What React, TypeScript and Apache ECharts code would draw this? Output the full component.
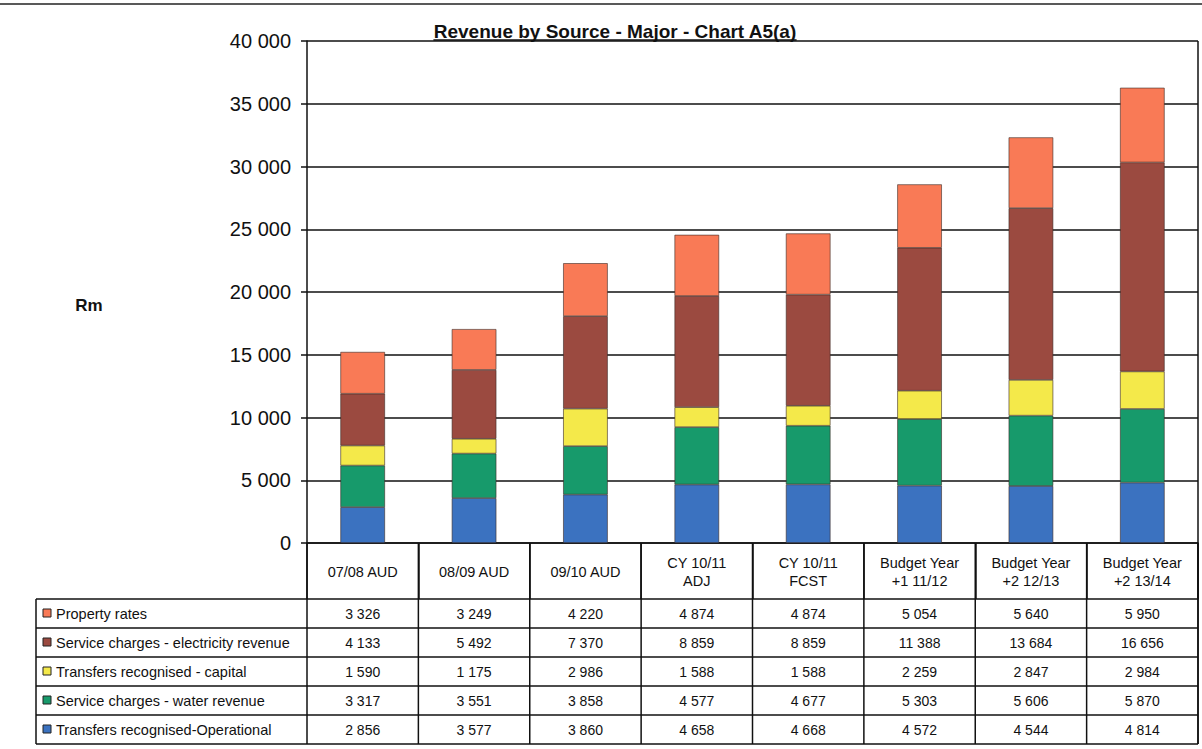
import React, { useEffect, useRef } from "react";
import * as echarts from "echarts";

const categories = [
  "07/08 AUD",
  "08/09 AUD",
  "09/10 AUD",
  "CY 10/11\nADJ",
  "CY 10/11\nFCST",
  "Budget Year\n+1 11/12",
  "Budget Year\n+2 12/13",
  "Budget Year\n+2 13/14",
];
const seriesNames = [
  "Property rates",
  "Service charges - electricity revenue",
  "Transfers recognised - capital",
  "Service charges - water revenue",
  "Transfers recognised-Operational",
];
const propertyRates = [3326, 3249, 4220, 4874, 4874, 5054, 5640, 5950];
const electricity = [4133, 5492, 7370, 8859, 8859, 11388, 13684, 16656];
const capital = [1590, 1175, 2986, 1588, 1588, 2259, 2847, 2984];
const water = [3317, 3551, 3858, 4577, 4677, 5303, 5606, 5870];
const operational = [2856, 3577, 3860, 4658, 4668, 4572, 4544, 4814];
const yTicks = [0, 5000, 10000, 15000, 20000, 25000, 30000, 35000, 40000];

const colors = ["#f97a56", "#9b4a40", "#f4e94a", "#179a6b", "#3b72c0"];
const tableRows = [propertyRates, electricity, capital, water, operational];

const FONT = "Liberation Sans, Arial, sans-serif";
const fmt = (v: number) => String(v).replace(/\B(?=(\d{3})+(?!\d))/g, " ");

// layout
const GL = 307;
const GT = 41;
const GW = 891;
const GH = 502;
const TABLE_TOP = 599;
const ROW_H = 29;
const TABLE_LEFT = 36;
const TITLE = "Revenue by Source - Major - Chart A5(a)";
const TITLE_FONT = `bold 19px ${FONT}`;

export default function App() {
  const ref = useRef<HTMLDivElement>(null);
  useEffect(() => {
    document.body.style.margin = "0";
    const chart = echarts.init(ref.current!, null, { renderer: "svg" });
    const colW = GW / categories.length;
    const right = GL + GW;
    const bottom = GT + GH;
    let titleW = 380;
    try {
      const ctx = document.createElement("canvas").getContext("2d");
      if (ctx) {
        ctx.font = TITLE_FONT;
        titleW = ctx.measureText(TITLE).width;
      }
    } catch (e) {}
    const titleX = 615;
    const graphics: any[] = [];
    // top border
    graphics.push({ type: "line", shape: { x1: 0, y1: 4, x2: 1202, y2: 4 }, style: { stroke: "#222", lineWidth: 1.5 } });
    // right border of plot
    graphics.push({ type: "line", shape: { x1: right, y1: GT, x2: right, y2: TABLE_TOP + ROW_H * 5 }, style: { stroke: "#111", lineWidth: 1.5 } });
    // title
    graphics.push({
      type: "text",
      x: titleX,
      y: 31,
      style: { text: TITLE, font: TITLE_FONT, fill: "#111", align: "center", verticalAlign: "middle" },
    });
    graphics.push({
      type: "line",
      shape: { x1: titleX - titleW / 2, y1: 40, x2: titleX + titleW / 2, y2: 40 },
      style: { stroke: "#111", lineWidth: 1.5 },
    });
    // Rm
    graphics.push({
      type: "text",
      x: 89,
      y: 305,
      style: { text: "Rm", font: `bold 17px ${FONT}`, fill: "#111", align: "center", verticalAlign: "middle" },
    });
    // table horizontal lines
    for (let r = 0; r <= tableRows.length; r++) {
      const y = TABLE_TOP + r * ROW_H;
      graphics.push({ type: "line", shape: { x1: TABLE_LEFT, y1: y, x2: right, y2: y }, style: { stroke: "#111", lineWidth: 1.5 } });
    }
    // table vertical lines
    graphics.push({ type: "line", shape: { x1: TABLE_LEFT, y1: TABLE_TOP, x2: TABLE_LEFT, y2: TABLE_TOP + ROW_H * 5 }, style: { stroke: "#111", lineWidth: 1.5 } });
    for (let c = 0; c <= categories.length; c++) {
      const x = GL + c * colW;
      graphics.push({ type: "line", shape: { x1: x, y1: bottom, x2: x, y2: TABLE_TOP + ROW_H * 5 }, style: { stroke: "#111", lineWidth: 1.5 } });
    }
    // table contents
    tableRows.forEach((row, r) => {
      const cy = TABLE_TOP + r * ROW_H + ROW_H / 2;
      graphics.push({
        type: "rect",
        shape: { x: 43, y: cy - 4.5, width: 8, height: 8 },
        style: { fill: colors[r], stroke: "#222", lineWidth: 1 },
      });
      graphics.push({
        type: "text",
        x: 56,
        y: cy,
        style: { text: seriesNames[r], font: `14.5px ${FONT}`, fill: "#111", align: "left", verticalAlign: "middle" },
      });
      row.forEach((v, c) => {
        graphics.push({
          type: "text",
          x: GL + colW * (c + 0.5),
          y: cy,
          style: { text: fmt(v), font: `14px ${FONT}`, fill: "#111", align: "center", verticalAlign: "middle" },
        });
      });
    });

    const stackOrder = [4, 3, 2, 1, 0];
    chart.setOption({
      animation: false,
      backgroundColor: "#ffffff",
      grid: { left: GL, top: GT, width: GW, height: GH, containLabel: false },
      xAxis: {
        type: "category",
        data: categories,
        axisLine: { show: true, lineStyle: { color: "#111", width: 1.5 } },
        axisTick: { show: true, interval: 0, length: 56, alignWithLabel: false, lineStyle: { color: "#111", width: 1.5 } },
        axisLabel: {
          interval: 0,
          margin: 29,
          verticalAlign: "middle",
          fontFamily: FONT,
          fontSize: 14.5,
          lineHeight: 18,
          color: "#111",
        },
      },
      yAxis: {
        type: "value",
        min: 0,
        max: 40000,
        interval: 5000,
        axisLine: { show: true, lineStyle: { color: "#111", width: 1.5 } },
        axisTick: { show: true, length: 6, lineStyle: { color: "#111", width: 1.5 } },
        axisLabel: {
          formatter: (v: number) => (yTicks.includes(v) ? fmt(v) : ""),
          fontFamily: FONT,
          fontSize: 20,
          color: "#111",
          margin: 16,
        },
        splitLine: { show: true, lineStyle: { color: "#111", width: 1.5 } },
      },
      series: stackOrder.map((i) => ({
        name: seriesNames[i],
        type: "bar",
        stack: "total",
        barWidth: "40%",
        data: tableRows[i],
        itemStyle: { color: colors[i], borderColor: "#3a2a25", borderWidth: 0.6 },
      })),
      graphic: graphics,
    });
    return () => chart.dispose();
  }, []);
  return <div ref={ref} style={{ width: 1202, height: 749 }} />;
}
